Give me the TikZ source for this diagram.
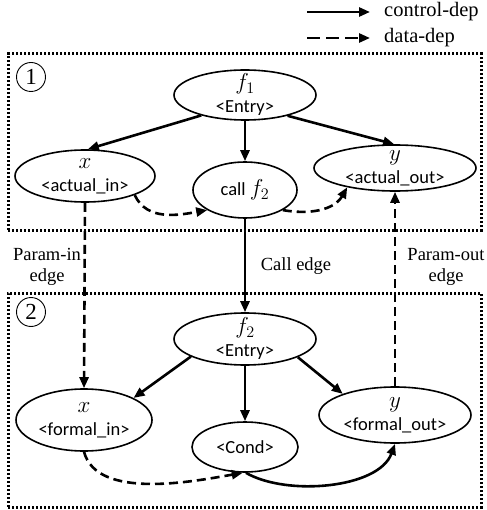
\RequirePackage{fix-cm}
\documentclass[tikz,border=0pt]{standalone}
\usepackage{fontspec}
\setmainfont{Liberation Serif}
\newfontfamily\carlito{Carlito}
\usetikzlibrary{arrows.meta,shapes.geometric}
\newcommand\mth[1]{{\fontsize{23}{23}\selectfont$#1$}}
\begin{document}
\begin{tikzpicture}[x=1pt,y=1pt,
  el/.style={draw, ellipse, line width=1.6pt, inner sep=0pt},
  intext/.style={align=center, inner sep=0pt, font=\carlito\fontsize{18.5}{23}\selectfont},
  ctrl/.style={line width=2.6pt, -{Triangle[length=11pt,width=9pt]}},
  data/.style={line width=2.6pt, dash pattern=on 9pt off 5pt, -{Triangle[length=11pt,width=9pt]}},
  box/.style={line width=3pt, dash pattern=on 2.2pt off 1.8pt},
  lbl/.style={font=\fontsize{18.5}{21}\selectfont, align=center, inner sep=0pt},
  leg/.style={font=\fontsize{20.5}{24}\selectfont, anchor=west, inner sep=0pt},
  num/.style={draw, circle, line width=0.9pt, minimum size=29pt, inner sep=0pt, font=\fontsize{23}{23}\selectfont}
]
\useasboundingbox (0,0) rectangle (486,-510);

% legend
\coordinate (l1s) at (307,-12);
\coordinate (l1e) at (370,-12);
\coordinate (l2s) at (307,-38);
\coordinate (l2e) at (370,-38);
\draw[ctrl] (l1s) -- (l1e);
\draw[data, dash pattern=on 13pt off 6pt] (l2s) -- (l2e);
\node[leg] (lc) at (384,-12) {control-dep};
\node[leg] (ld) at (384,-38) {data-dep};

% boxes
\node[box, draw, minimum width=473pt, minimum height=176pt, inner sep=0pt] (b1) at (244.5,-142) {};
\node[box, draw, minimum width=473pt, minimum height=214pt, inner sep=0pt] (b2) at (244.5,-400) {};
\node[num] (n1) at (31,-77) {1};
\node[num] (n2) at (31,-312) {2};

% nodes
\node[el, minimum width=142pt, minimum height=50pt, label={[intext]center:{\mth{f_1}\\<Entry>}}] (f1) at (245,-95) {};
\node[el, minimum width=140pt, minimum height=52pt, label={[intext]center:{\mth{x}\\<actual\_in>}}] (xa) at (85,-176) {};
\node[el, minimum width=104pt, minimum height=56pt, label={[intext]center:{call \mth{f_2}}}] (call) at (245,-190) {};
\node[el, minimum width=162pt, minimum height=46pt, label={[intext]center:{\mth{y}\\<actual\_out>}}] (ya) at (395,-168) {};
\node[el, minimum width=142pt, minimum height=52pt, label={[intext]center:{\mth{f_2}\\<Entry>}}] (f2) at (245,-339) {};
\node[el, minimum width=136pt, minimum height=62pt, label={[intext]center:{\mth{x}\\<formal\_in>}}] (xf) at (84,-420) {};
\node[el, minimum width=106pt, minimum height=50pt, label={[intext]center:{<Cond>}}] (cond) at (245,-447) {};
\node[el, minimum width=152pt, minimum height=56pt, label={[intext]center:{\mth{y}\\<formal\_out>}}] (yf) at (395,-415) {};

% labels
\node[lbl] (pin) at (47,-267) {Param-in\\edge};
\node[lbl] (pout) at (446,-267) {Param-out\\edge};
\node[lbl] (ce) at (296,-266) {Call edge};

% edges upper
\draw[ctrl] (f1.-155) -- (xa.84);
\draw[ctrl] (f1.-90) -- (call.90);
\draw[ctrl] (f1.-26) -- (ya.92);
\draw[data] (xa.-21) to[out=-65,in=190] (call.-152);
\draw[data] (call.-28) to[out=-10,in=-120] (ya.-158);
\draw[ctrl] (call.-90) -- (f2.90);
\draw[data] (xa.-90) -- (xf.90);
\draw[data] (yf.90) -- (ya.-90);
% edges lower
\draw[ctrl] (f2.-162) -- (xf.24);
\draw[ctrl] (f2.-90) -- (cond.90);
\draw[ctrl] (f2.-19) -- (yf.158);
\draw[data] (xf.-90) to[out=-75,in=190,looseness=0.8] (cond.-95);
\draw[ctrl] (cond.-88) to[out=-30,in=-110,looseness=0.8] (yf.-90);
\end{tikzpicture}
\end{document}
